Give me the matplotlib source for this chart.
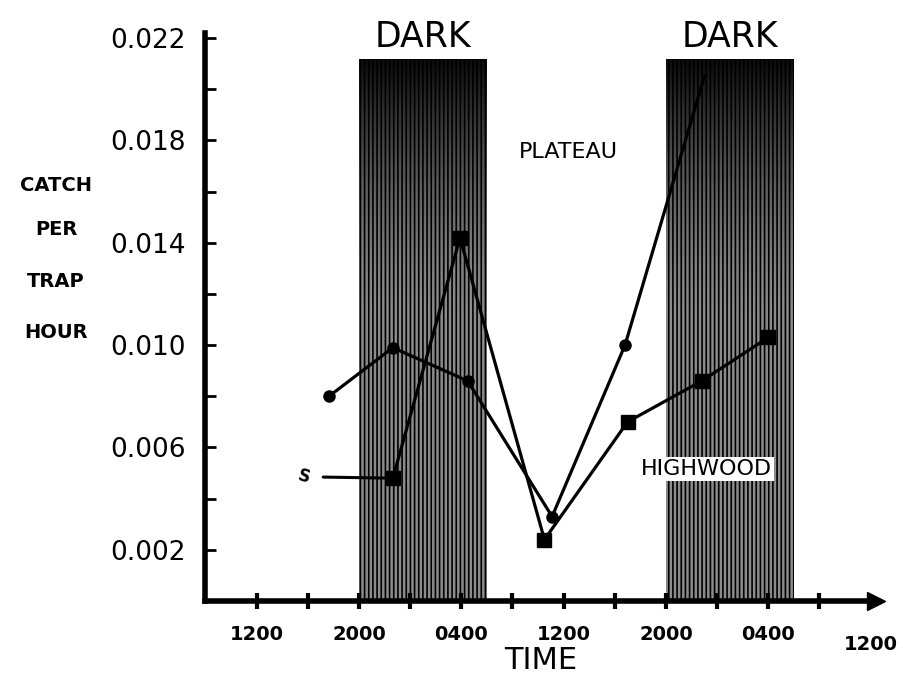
import numpy as np
import matplotlib
matplotlib.use("Agg")
import matplotlib.pyplot as plt

# ---- data (hours after 0800 of first day) ----
plateau_hours = [9.65, 14.65, 20.5, 27.1, 32.8, 39.0]
plateau_catch = [0.0080, 0.0099, 0.0086, 0.0033, 0.0100, 0.0205]
highwood_hours = [14.65, 19.9, 26.5, 33.0, 38.8, 44.0]
highwood_catch = [0.0048, 0.0142, 0.0024, 0.0070, 0.0086, 0.0103]
dark_start = [12, 36]
dark_end = [22, 46]
dark_top = 0.0212
x_ticks = [4, 8, 12, 16, 20, 24, 28, 32, 36, 40, 44, 48]
x_tick_labels = ["1200", "", "2000", "", "0400", "", "1200", "", "2000", "", "0400", ""]
x_last_label = "1200"
x_last_pos = 52
y_ticks = [0.002, 0.004, 0.006, 0.008, 0.010, 0.012, 0.014, 0.016, 0.018, 0.020, 0.022]
y_tick_labels = ["0.002", "", "0.006", "", "0.010", "", "0.014", "", "0.018", "", "0.022"]

plt.rcParams['font.family'] = ['DejaVu Sans']
plt.rcParams['hatch.linewidth'] = 1.2

fig = plt.figure(figsize=(9.04, 6.82), dpi=100)
ax = fig.add_axes([0.2273, 0.1188, 0.7414, 0.8328])
ax.set_xlim(0, 52.4)
ax.set_ylim(0, 0.0222)

# dark bands
for x0, x1 in zip(dark_start, dark_end):
    ax.fill_between([x0, x1], 0, dark_top, facecolor='#8c8c8c', edgecolor='black',
                    hatch='||||', linewidth=0, zorder=1)
    grad = np.linspace(0, 1, 100)[:, None] ** 1.5 * np.ones((1, 10))
    ax.imshow(grad, extent=[x0, x1, 0.011, dark_top], origin='lower', aspect='auto',
              cmap=matplotlib.colors.LinearSegmentedColormap.from_list(
                  'k', [(0, 0, 0, 0), (0, 0, 0, 0.92)]), zorder=1.5)
    ax.text((x0 + x1) / 2, 0.02165, "DARK", ha='center', va='baseline', fontsize=25,
            clip_on=False)

# series
ax.plot(plateau_hours, plateau_catch, '-', color='black', lw=2.3, marker='o',
        markersize=8, zorder=3, markevery=list(range(len(plateau_hours) - 1)))
ax.plot(highwood_hours, highwood_catch, '-', color='black', lw=2.3, marker='s',
        markersize=9.5, zorder=3)

# small pointer label at first Highwood point
ax.annotate("S", xy=(highwood_hours[0], highwood_catch[0]), xytext=(-64, 1),
            textcoords='offset points', ha='center', va='center', fontsize=12,
            fontweight='bold', rotation=-15,
            arrowprops=dict(arrowstyle='-', lw=2.2, color='black', shrinkA=6, shrinkB=4))

# labels
ax.text(0.541, 0.790, "PLATEAU", transform=ax.transAxes, ha='center', va='center',
        fontsize=16)
ax.text(0.748, 0.233, "HIGHWOOD", transform=ax.transAxes, ha='center', va='center',
        fontsize=16, bbox=dict(facecolor='white', edgecolor='none', pad=1.5), zorder=4)

for word, yy in zip(["CATCH", "PER", "TRAP", "HOUR"], [0.728, 0.664, 0.587, 0.513]):
    fig.text(0.062, yy, word, ha='center', va='center', fontsize=14, fontweight='bold')

# axes styling
for s in ['top', 'right']:
    ax.spines[s].set_visible(False)
ax.spines['left'].set_linewidth(4)
ax.spines['bottom'].set_linewidth(4)
ax.plot(1.0, 0, '>', color='black', markersize=13, transform=ax.get_yaxis_transform(),
        clip_on=False, zorder=5)

ax.set_xticks(x_ticks)
ax.set_xticklabels(x_tick_labels, fontsize=14, fontweight='bold')
ax.tick_params(axis='x', direction='inout', length=12, width=3, pad=11)
ax.text(x_last_pos, -0.0017, x_last_label, ha='center', va='center', fontsize=14,
        fontweight='bold')
ax.set_yticks(y_ticks)
ax.set_yticklabels(y_tick_labels, fontsize=19)
ax.tick_params(axis='y', direction='in', length=8, width=2, pad=14)
ax.set_xlabel("TIME", fontsize=22, labelpad=2)

fig.savefig("out.png", dpi=100, facecolor='white')
